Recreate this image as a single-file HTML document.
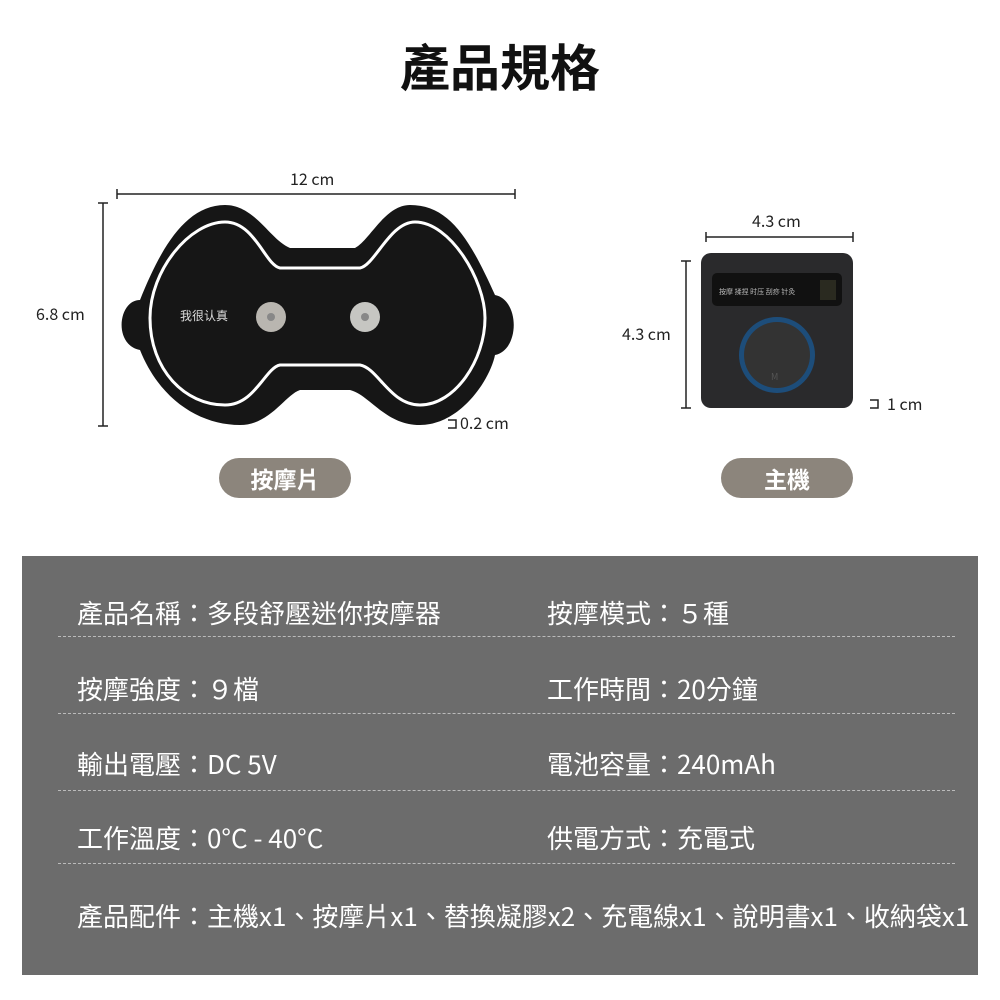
<!DOCTYPE html>
<html><head><meta charset="utf-8"><style>
body{margin:0;width:1000px;height:1000px;background:#fff;position:relative;font-family:"Noto Sans CJK TC","Liberation Sans",sans-serif;overflow:hidden}
.a{position:absolute;white-space:nowrap}
.t{color:#fff;font-size:26px;line-height:32px}
.dl{position:absolute;left:58px;width:897px;border-top:1px dashed #bbb}
.pill{position:absolute;background:#8c857c;color:#fff;font-size:23px;font-weight:bold;text-align:center;border-radius:21px;height:40px;line-height:40px;width:132px}
</style></head><body>
<div class="a" style="left:0;width:1000px;text-align:center;top:30px;font-size:50px;line-height:70px;font-weight:bold;color:#111">產品規格</div>
<svg class="a" style="left:0;top:0" width="1000" height="540">
<g stroke="#222" stroke-width="1.5" fill="none">
<line x1="117" y1="194" x2="515" y2="194"/><line x1="117" y1="189" x2="117" y2="199"/><line x1="515" y1="189" x2="515" y2="199"/>
<line x1="103" y1="203" x2="103" y2="426"/><line x1="98" y1="203" x2="108" y2="203"/><line x1="98" y1="426" x2="108" y2="426"/>
<line x1="706" y1="237" x2="853" y2="237"/><line x1="706" y1="232" x2="706" y2="242"/><line x1="853" y1="232" x2="853" y2="242"/>
<line x1="686" y1="261" x2="686" y2="408"/><line x1="681" y1="261" x2="691" y2="261"/><line x1="681" y1="408" x2="691" y2="408"/>
<path d="M448 420 H456 V428 H448"/><path d="M870 400 H878 V408 H870"/>
</g>
<g font-size="16" fill="#222" font-family="Noto Sans CJK TC,sans-serif">
<text x="290" y="185">12 cm</text><text x="36" y="320">6.8 cm</text><text x="460" y="429">0.2 cm</text>
<text x="752" y="227">4.3 cm</text><text x="622" y="340">4.3 cm</text><text x="887" y="410">1 cm</text>
</g>
<path fill="#161616" d="M140,300 C118,300 113,345 140,350 C160,400 200,425 240,425 C270,425 285,395 300,390 L350,390 C370,395 385,425 420,425 C460,425 490,380 495,355 C520,350 520,300 495,295 C470,240 450,205 410,205 C385,205 370,240 355,248 L290,248 C270,240 255,205 225,205 C185,205 160,250 140,300 Z"/>
<path fill="none" stroke="#fff" stroke-width="3" d="M150,318 C150,270 190,222 225,222 C255,222 265,265 280,268 L360,268 C375,265 390,222 415,222 C450,222 485,280 485,318 C485,360 455,405 420,405 C390,405 378,368 360,365 L280,365 C265,368 255,405 225,405 C185,405 150,370 150,318 Z"/>
<text x="180" y="320" fill="#ddd" font-size="12" font-family="Noto Sans CJK SC,sans-serif">我很认真</text>
<circle cx="271" cy="317" r="15" fill="#b9b6b0"/><circle cx="271" cy="317" r="4" fill="#888"/>
<circle cx="365" cy="317" r="15" fill="#c6c6c2"/><circle cx="365" cy="317" r="4" fill="#888"/>
<rect x="701" y="253" width="152" height="155" rx="10" fill="#2a2a2c"/>
<rect x="712" y="273" width="130" height="33" rx="5" fill="#111"/>
<text x="719" y="294" fill="#bbb" font-size="7" font-family="Noto Sans CJK SC,sans-serif">按摩 揉捏 时压 刮痧 针灸</text>
<rect x="820" y="280" width="16" height="20" fill="#2a2a20"/>
<circle cx="777" cy="355" r="38" fill="#1d4d7a"/><circle cx="777" cy="355" r="33" fill="#333"/>
<text x="771" y="380" fill="#555" font-size="9">M</text>
</svg>
<div class="pill" style="left:219px;top:458px">按摩片</div>
<div class="pill" style="left:721px;top:458px">主機</div>
<div class="a" style="left:22px;top:556px;width:956px;height:419px;background:#6c6c6c"></div>
<div class="a t" style="left:77px;top:597px">產品名稱：多段舒壓迷你按摩器</div>
<div class="a t" style="left:547px;top:597px">按摩模式：５種</div>
<div class="dl" style="top:636px"></div>
<div class="a t" style="left:77px;top:673px">按摩強度：９檔</div>
<div class="a t" style="left:547px;top:673px">工作時間：20分鐘</div>
<div class="dl" style="top:713px"></div>
<div class="a t" style="left:77px;top:748px">輸出電壓：DC 5V</div>
<div class="a t" style="left:547px;top:748px">電池容量：240mAh</div>
<div class="dl" style="top:790px"></div>
<div class="a t" style="left:77px;top:822px">工作溫度：0°C - 40°C</div>
<div class="a t" style="left:547px;top:822px">供電方式：充電式</div>
<div class="dl" style="top:863px"></div>
<div class="a t" style="left:77px;top:900px">產品配件：主機x1、按摩片x1、替換凝膠x2、充電線x1、說明書x1、收納袋x1</div>
</body></html>
